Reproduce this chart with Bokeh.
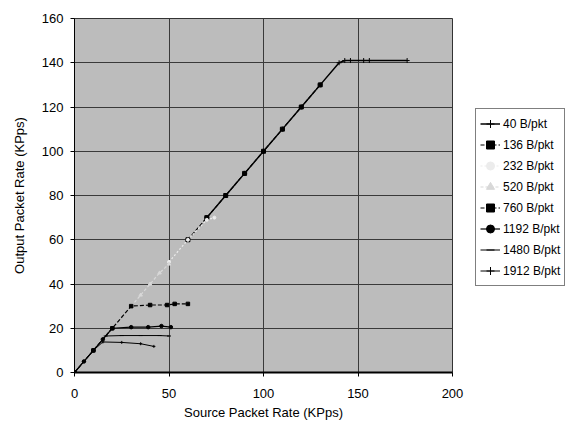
from bokeh.plotting import figure
from bokeh.models import Range1d, FixedTicker, Legend, LegendItem
from bokeh.embed import file_html
from bokeh.resources import INLINE

# ---- data ----
x40 = [70, 80, 90, 100, 110, 120, 130, 140, 143, 146, 153, 156, 176]
y40 = [70, 80, 90, 100, 110, 120, 130, 140, 141, 141, 141, 141, 141]

x136 = [60, 70, 80, 90, 100, 110, 120, 130]
y136 = [60, 70, 80, 90, 100, 110, 120, 130]

x232 = [50, 60, 70, 74]
y232 = [50, 60, 69, 70]

x520 = [30, 35, 40, 45, 50]
y520 = [30, 35, 40, 45, 49]

x760 = [0, 10, 20, 30, 40, 49, 53, 60]
y760 = [0, 10, 20, 30, 30.5, 30.5, 31, 31]

x1192 = [0, 5, 10, 15, 20, 30, 39, 46, 51]
y1192 = [0, 5, 10, 15, 20, 20.5, 20.5, 21, 20.5]

x1480 = [0, 5, 10, 16.5, 25, 35, 45, 50]
y1480 = [0, 5, 10, 16.5, 16.7, 16.7, 16.7, 16.5]

x1912 = [0, 5, 10, 15, 25, 35, 42]
y1912 = [0, 5, 10, 13.8, 13.6, 13, 11.8]

labels = ["40 B/pkt", "136 B/pkt", "232 B/pkt", "520 B/pkt",
          "760 B/pkt", "1192 B/pkt", "1480 B/pkt", "1912 B/pkt"]
x_ticks = [0, 50, 100, 150, 200]
y_ticks = [0, 20, 40, 60, 80, 100, 120, 140, 160]

FONT = "Liberation Sans"

p = figure(frame_width=378, frame_height=354, output_backend="svg",
           toolbar_location=None,
           x_range=Range1d(0, 200), y_range=Range1d(0, 160),
           min_border_left=74, min_border_right=0, min_border_top=18,
           min_border_bottom=56)

p.background_fill_color = "#bcbcbc"
p.border_fill_color = "white"
p.outline_line_color = "#333333"
p.outline_line_width = 1

for ax in (p.xaxis[0], p.yaxis[0]):
    ax.major_label_text_font = FONT
    ax.major_label_text_font_size = "13px"
    ax.major_label_text_color = "black"
    ax.axis_label_text_font = FONT
    ax.axis_label_text_font_size = "13px"
    ax.axis_label_text_font_style = "normal"
    ax.axis_label_text_color = "black"
    ax.minor_tick_line_color = None
    ax.major_tick_in = 0
    ax.major_tick_out = 4
    ax.axis_line_color = "black"
    ax.major_tick_line_color = "black"

p.xaxis[0].ticker = FixedTicker(ticks=x_ticks)
p.yaxis[0].ticker = FixedTicker(ticks=y_ticks)
p.xaxis[0].axis_line_width = 2
p.xaxis[0].major_label_standoff = 12
p.xaxis[0].axis_label_standoff = 4
p.yaxis[0].major_label_standoff = 7
p.yaxis[0].axis_label_standoff = 12
p.xaxis[0].axis_label = "Source Packet Rate (KPps)"
p.yaxis[0].axis_label = "Output Packet Rate (KPps)"

p.xgrid[0].ticker = FixedTicker(ticks=x_ticks)
p.ygrid[0].ticker = FixedTicker(ticks=y_ticks)
p.xgrid.grid_line_color = "#3a3a3a"
p.ygrid.grid_line_color = "#3a3a3a"
p.xgrid.grid_line_width = 1
p.ygrid.grid_line_width = 1

series = [
    (x40, y40, "black", "solid", "cross", 5, 1.5),
    (x136, y136, "black", "4 2", "square", 4, 1.2),
    (x232, y232, "#ececec", "2 2", "circle", 3, 1.2),
    (x520, y520, "#d8d8d8", "3 2", "triangle", 3.5, 1.2),
    (x760, y760, "black", "4 2", "square", 3.5, 1.2),
    (x1192, y1192, "black", "solid", "circle", 3.5, 1.2),
    (x1480, y1480, "black", "solid", "dash", 4, 1.0),
    (x1912, y1912, "black", "solid", "cross", 3, 1.0),
]

items = []
for (xs, ys, col, dash, mk, sz, lw), lab in zip(series, labels):
    r1 = p.line(xs, ys, line_color=col, line_dash=dash, line_width=lw)
    r2 = p.scatter(xs, ys, marker=mk, size=sz, line_color=col, fill_color=col)
    items.append(LegendItem(label=lab, renderers=[r1, r2]))

legend = Legend(items=items, location=(23, 86))
legend.label_text_font = FONT
legend.label_text_font_size = "12px"
legend.label_text_color = "black"
legend.glyph_height = 21
legend.label_height = 21
legend.glyph_width = 20
legend.spacing = 0
legend.padding = 4
legend.margin = 0
legend.label_standoff = 3
legend.border_line_color = "black"
legend.border_line_width = 1
legend.background_fill_color = "white"
legend.background_fill_alpha = 1
p.add_layout(legend, "right")

open("out.html", "w").write(file_html(p, INLINE))
